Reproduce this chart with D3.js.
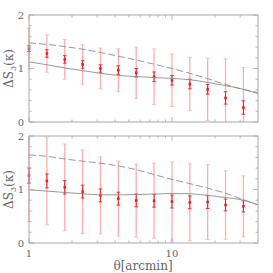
<!DOCTYPE html>
<html><head><meta charset="utf-8">
<script src="https://cdn.jsdelivr.net/npm/d3@7"></script>
<style>html,body{margin:0;padding:0;background:#fff;}</style>
</head><body>
<script>
// ---- data ----
const theta = [1, 1.334, 1.778, 2.371, 3.162, 4.217, 5.623, 7.499, 10, 13.34, 17.78, 23.71, 31.62];
const lineTheta = [1, 1.334, 1.778, 2.371, 3.162, 4.217, 5.623, 7.499, 10, 13.34, 17.78, 23.71, 31.62, 40];

const topVal   = [1.37, 1.28, 1.17, 1.075, 1.0, 0.97, 0.92, 0.845, 0.78, 0.71, 0.61, 0.45, 0.27];
const topErr   = [0.38, 0.35, 0.37, 0.37, 0.38, 0.40, 0.48, 0.52, 0.49, 0.50, 0.58, 0.73, 0.75];
const topErrIn = [0.055, 0.07, 0.07, 0.07, 0.07, 0.08, 0.08, 0.09, 0.09, 0.09, 0.09, 0.115, 0.125];
const topSolid = [1.124, 1.07, 1.01, 0.96, 0.91, 0.87, 0.85, 0.83, 0.815, 0.79, 0.74, 0.68, 0.61, 0.53];
const topDash  = [1.48, 1.45, 1.41, 1.36, 1.30, 1.23, 1.16, 1.08, 1.0, 0.91, 0.81, 0.70, 0.61, 0.55];

const botVal   = [1.26, 1.16, 1.04, 0.96, 0.89, 0.83, 0.795, 0.79, 0.775, 0.76, 0.765, 0.71, 0.685];
const botErr   = [0.86, 0.82, 0.81, 0.78, 0.72, 0.70, 0.68, 0.70, 0.74, 0.72, 0.70, 0.64, 0.57];
const botErrIn = [0.14, 0.13, 0.125, 0.12, 0.12, 0.12, 0.12, 0.12, 0.12, 0.12, 0.12, 0.11, 0.105];
const botSolid = [0.994, 0.97, 0.945, 0.92, 0.90, 0.90, 0.905, 0.915, 0.925, 0.92, 0.89, 0.85, 0.80, 0.714];
const botDash  = [1.646, 1.62, 1.57, 1.53, 1.49, 1.44, 1.37, 1.28, 1.19, 1.11, 1.025, 0.93, 0.81, 0.714];

const xMajor = [1, 10];
const xMinor = [2, 3, 4, 5, 6, 7, 8, 9, 20, 30];
const yMajor = [0, 1, 2];
const yMinor = [0.2, 0.4, 0.6, 0.8, 1.2, 1.4, 1.6, 1.8];

// ---- layout ----
const W = 273, H = 273;
const L = 29, R = 258;
const panels = [
  {top: 15, bottom: 122, val: topVal, err: topErr, errIn: topErrIn, solid: topSolid, dash: topDash, id: "p1"},
  {top: 136, bottom: 243, val: botVal, err: botErr, errIn: botErrIn, solid: botSolid, dash: botDash, id: "p2"}
];
const frameCol = "#a8a8a8";
const lineCol = "#8c8c8c";
const lightCol = "#f9b0b2";
const darkCol = "#ee1c24";
const textCol = "#666";
const serif = "'DejaVu Serif', 'Liberation Serif', serif";

const svg = d3.select("body").append("svg").attr("width", W).attr("height", H);
const x = d3.scaleLog().domain([1, 40]).range([L, R]);

panels.forEach((p, pi) => {
  const y = d3.scaleLinear().domain([0, 2]).range([p.bottom, p.top]);
  const g = svg.append("g");
  const defs = svg.append("defs");
  defs.append("clipPath").attr("id", p.id)
    .append("rect").attr("x", L - 4).attr("y", p.top).attr("width", R - L + 4).attr("height", p.bottom - p.top);
  defs.append("clipPath").attr("id", p.id + "l")
    .append("rect").attr("x", L).attr("y", p.top).attr("width", R - L).attr("height", p.bottom - p.top);
  const c = g.append("g").attr("clip-path", `url(#${p.id})`);
  const cl = g.append("g").attr("clip-path", `url(#${p.id}l)`);

  const idx = d3.range(theta.length);
  // light error bars
  idx.forEach(i => {
    const xi = x(theta[i]);
    const lo = y(p.val[i] - p.err[i]), hi = y(p.val[i] + p.err[i]);
    c.append("line").attr("x1", xi).attr("x2", xi).attr("y1", lo).attr("y2", hi)
      .attr("stroke", lightCol).attr("stroke-width", 1.3);
    [lo, hi].forEach(yy => c.append("line").attr("x1", xi - 2).attr("x2", xi + 2).attr("y1", yy).attr("y2", yy)
      .attr("stroke", lightCol).attr("stroke-width", 0.8));
  });

  // model lines
  const ln = d3.line().x((d, i) => x(lineTheta[i])).y(d => y(d)).curve(d3.curveMonotoneX);
  cl.append("path").attr("d", ln(p.solid)).attr("fill", "none").attr("stroke", lineCol).attr("stroke-width", 0.9);
  cl.append("path").attr("d", ln(p.dash)).attr("fill", "none").attr("stroke", lineCol).attr("stroke-width", 0.9)
    .attr("stroke-dasharray", "7,3");

  // dark error bars + points
  idx.forEach(i => {
    const xi = x(theta[i]);
    const lo = y(p.val[i] - p.errIn[i]), hi = y(p.val[i] + p.errIn[i]);
    c.append("line").attr("x1", xi).attr("x2", xi).attr("y1", lo).attr("y2", hi)
      .attr("stroke", darkCol).attr("stroke-width", 1);
    [lo, hi].forEach(yy => c.append("line").attr("x1", xi - 1.8).attr("x2", xi + 1.8).attr("y1", yy).attr("y2", yy)
      .attr("stroke", darkCol).attr("stroke-width", 0.9));
    c.append("rect").attr("x", xi - 1.3).attr("y", y(p.val[i]) - 1.3).attr("width", 2.6).attr("height", 2.6)
      .attr("fill", darkCol);
  });

  // frame
  g.append("rect").attr("x", L).attr("y", p.top).attr("width", R - L).attr("height", p.bottom - p.top)
    .attr("fill", "none").attr("stroke", frameCol).attr("stroke-width", 1);

  // ticks (inward)
  const tk = g.append("g").attr("stroke", frameCol).attr("stroke-width", 0.8);
  xMajor.forEach(v => {
    tk.append("line").attr("x1", x(v)).attr("x2", x(v)).attr("y1", p.bottom).attr("y2", p.bottom - 5);
    tk.append("line").attr("x1", x(v)).attr("x2", x(v)).attr("y1", p.top).attr("y2", p.top + 5);
  });
  xMinor.forEach(v => {
    tk.append("line").attr("x1", x(v)).attr("x2", x(v)).attr("y1", p.bottom).attr("y2", p.bottom - 2.5);
    tk.append("line").attr("x1", x(v)).attr("x2", x(v)).attr("y1", p.top).attr("y2", p.top + 2.5);
  });
  yMajor.forEach(v => {
    tk.append("line").attr("x1", L).attr("x2", L + 5).attr("y1", y(v)).attr("y2", y(v));
    tk.append("line").attr("x1", R).attr("x2", R - 5).attr("y1", y(v)).attr("y2", y(v));
  });
  yMinor.forEach(v => {
    tk.append("line").attr("x1", L).attr("x2", L + 2.5).attr("y1", y(v)).attr("y2", y(v));
    tk.append("line").attr("x1", R).attr("x2", R - 2.5).attr("y1", y(v)).attr("y2", y(v));
  });

  // y tick labels
  yMajor.forEach(v => {
    g.append("text").attr("x", L - 5).attr("y", y(v) + 3.5).attr("text-anchor", "end")
      .attr("font-family", serif).attr("font-size", 10).attr("fill", textCol).text(v);
  });

  // y label
  const cy = (p.top + p.bottom) / 2;
  const yl = g.append("text").attr("transform", `translate(13,${cy}) rotate(-90)`).attr("text-anchor", "middle")
    .attr("font-family", serif).attr("font-size", 12).attr("fill", textCol);
  yl.append("tspan").text("ΔS");
  yl.append("tspan").attr("font-size", 8).attr("dy", 3).text("3");
  yl.append("tspan").attr("dy", -3).text("(κ)");
});

// x tick labels
xMajor.forEach(v => {
  svg.append("text").attr("x", x(v)).attr("y", 257).attr("text-anchor", "middle")
    .attr("font-family", serif).attr("font-size", 10).attr("fill", textCol).text(v);
});
svg.append("text").attr("x", 143).attr("y", 270).attr("text-anchor", "middle")
  .attr("font-family", serif).attr("font-size", 12).attr("fill", textCol).text("θ[arcmin]");
</script>
</body></html>
